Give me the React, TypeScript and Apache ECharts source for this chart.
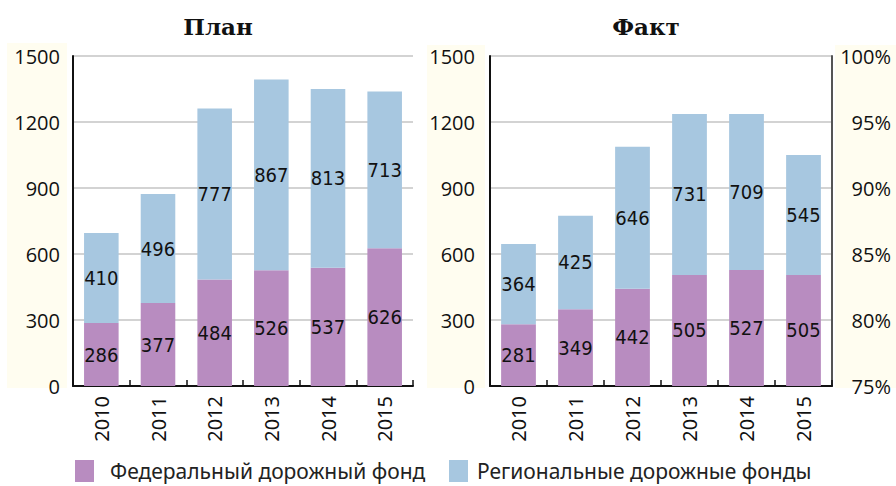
import React, { useEffect, useRef } from "react";
import * as echarts from "echarts";

const years = ["2010", "2011", "2012", "2013", "2014", "2015"];
const planFederal = [286, 377, 484, 526, 537, 626];
const planRegional = [410, 496, 777, 867, 813, 713];
const factFederal = [281, 349, 442, 505, 527, 505];
const factRegional = [364, 425, 646, 731, 709, 545];
const nameFederal = "Федеральный дорожный фонд";
const nameRegional = "Региональные дорожные фонды";
const titles = ["План", "Факт"];

const PURPLE = "#b88cc0";
const BLUE = "#a7c7e0";
const CREAM = "#fffdf0";

export default function App() {
  const ref = useRef<HTMLDivElement>(null);
  useEffect(() => {
    if (!ref.current) return;
    const chart = echarts.init(ref.current, null, { renderer: "svg" });
    const labelStyle = {
      show: true,
      position: "inside",
      color: "#111",
      fontSize: 20,
      fontFamily: "DejaVu Sans Condensed",
    };
    const xAxisCommon = {
      type: "category",
      data: years,
      axisLine: { lineStyle: { color: "#111", width: 2 } },
      axisTick: { show: true, inside: true, length: 6, lineStyle: { color: "#111", width: 1.5 } },
      axisLabel: { rotate: 90, margin: 10, fontSize: 20, color: "#111", fontFamily: "Noto Sans" },
    };
    const yCommon = {
      type: "value",
      min: 0,
      max: 1500,
      interval: 300,
      axisLine: { show: true, lineStyle: { color: "#111", width: 2 } },
      axisTick: { show: false },
      splitLine: { lineStyle: { color: "#c4c4c4", width: 1.5 } },
      axisLabel: { fontSize: 20, color: "#111", fontFamily: "Open Sans", formatter: (v: number) => String(v) },
    };
    const barCommon = { type: "bar", barWidth: "61%", label: labelStyle };
    const legendCommon = {
      top: 459,
      padding: 0,
      itemWidth: 19,
      itemHeight: 22,
      icon: "rect",
    };
    chart.setOption({
      animation: false,
      backgroundColor: "#fff",
      graphic: [
        { type: "rect", z: -10, shape: { x: 7, y: 43, width: 60, height: 345 }, style: { fill: CREAM } },
        { type: "rect", z: -10, shape: { x: 427, y: 45, width: 58, height: 343 }, style: { fill: CREAM } },
        { type: "rect", z: -10, shape: { x: 835, y: 45, width: 61, height: 343 }, style: { fill: CREAM } },
        {
          type: "text",
          x: 218,
          y: 26,
          style: { text: titles[0], textAlign: "center", textVerticalAlign: "middle", font: "bold 23px 'DejaVu Serif'", fill: "#111" },
        },
        {
          type: "text",
          x: 646,
          y: 26,
          style: { text: titles[1], textAlign: "center", textVerticalAlign: "middle", font: "bold 23px 'DejaVu Serif'", fill: "#111" },
        },
      ],
      legend: [
        {
          ...legendCommon,
          data: [nameFederal],
          left: 75,
          textStyle: { fontSize: 21, lineHeight: 24, color: "#222", fontFamily: "Noto Sans", padding: [0, 0, 0, 11] },
        },
        {
          ...legendCommon,
          data: [nameRegional],
          left: 449,
          textStyle: { fontSize: 21, lineHeight: 24, color: "#222", fontFamily: "Noto Sans", padding: [0, 0, 0, 4] },
        },
      ],
      grid: [
        { left: 73, top: 56, width: 340, height: 330 },
        { left: 490, top: 56, width: 342, height: 330 },
      ],
      xAxis: [
        { ...xAxisCommon, gridIndex: 0 },
        { ...xAxisCommon, gridIndex: 1 },
      ],
      yAxis: [
        { ...yCommon, gridIndex: 0, axisLabel: { ...yCommon.axisLabel, margin: 13 } },
        { ...yCommon, gridIndex: 1, axisLabel: { ...yCommon.axisLabel, margin: 15 } },
        {
          type: "value",
          gridIndex: 1,
          position: "right",
          min: 75,
          max: 100,
          interval: 5,
          axisLine: { show: true, lineStyle: { color: "#555", width: 2 } },
          axisTick: { show: false },
          splitLine: { show: false },
          axisLabel: {
            formatter: "{value}%",
            align: "right",
            margin: 59,
            fontSize: 20,
            color: "#111",
            fontFamily: "Open Sans",
          },
        },
      ],
      series: [
        { ...barCommon, name: nameFederal, stack: "plan", xAxisIndex: 0, yAxisIndex: 0, data: planFederal, itemStyle: { color: PURPLE } },
        { ...barCommon, name: nameRegional, stack: "plan", xAxisIndex: 0, yAxisIndex: 0, data: planRegional, itemStyle: { color: BLUE } },
        { ...barCommon, name: nameFederal, stack: "fact", xAxisIndex: 1, yAxisIndex: 1, data: factFederal, itemStyle: { color: PURPLE } },
        { ...barCommon, name: nameRegional, stack: "fact", xAxisIndex: 1, yAxisIndex: 1, data: factRegional, itemStyle: { color: BLUE } },
      ],
    });
    return () => chart.dispose();
  }, []);
  return <div ref={ref} style={{ width: 896, height: 486, position: "absolute", left: 0, top: 0 }} />;
}
